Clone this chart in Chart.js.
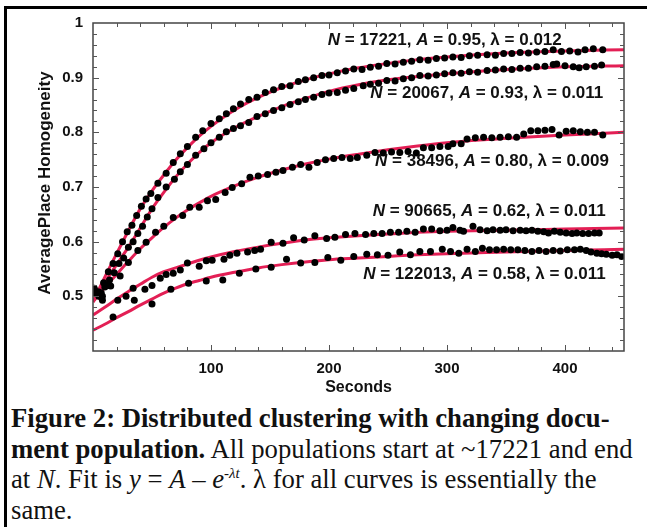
<!DOCTYPE html>
<html>
<head>
<meta charset="utf-8">
<script src="https://cdn.jsdelivr.net/npm/chart.js@4.4.1/dist/chart.umd.min.js"></script>
<style>
  html, body { margin: 0; padding: 0; background: #fff; }
  #wrap { position: relative; width: 647px; height: 527px; overflow: hidden; background: #fff; }
  #box { position: absolute; left: 4px; top: 6px; right: -10px; height: 518px;
         border-top: 3px solid #000; border-left: 3px solid #000; }
  #c { position: absolute; left: 0; top: 0; }
  #cap { position: absolute; left: 11px; top: 403px; font-family: 'Liberation Serif', 'Times New Roman', serif;
         font-size: 26.7px; line-height: 30.5px; color: #111; white-space: nowrap; }
  #cap sup { font-size: 15px; vertical-align: 10px; line-height: 0; }
</style>
</head>
<body>
<div id="wrap">
  <div id="box"></div>
  <canvas id="c" width="647" height="400"></canvas>
  <div id="cap">
    <div><b>Figure 2: Distributed clustering with changing docu-</b></div>
    <div><b>ment population.</b> All populations start at ~17221 and end</div>
    <div>at <i>N</i>. Fit is <i>y</i> = <i>A</i> &ndash; <i>e</i><sup>-<i>&lambda;t</i></sup>. &lambda; for all curves is essentially the</div>
    <div>same.</div>
  </div>
</div>
<script>
// ---- data ----
const X_TICKS = [100, 200, 300, 400];
const Y_TICKS = [0.5, 0.6, 0.7, 0.8, 0.9, 1];

const POP_N = ['17221', '20067', '38496', '90665', '122013'];
const POP_A = ['0.95', '0.93', '0.80', '0.62', '0.58'];
const POP_L = ['0.012', '0.011', '0.009', '0.011', '0.011'];

// fitted curves, sampled at FIT_T
const FIT_T = [0, 10, 20, 30, 40, 50, 60, 70, 80, 90, 100, 120, 140, 160, 180, 200, 225, 250, 275, 300, 350, 400, 450];
const FIT_17221  = [0.49, 0.535, 0.578, 0.62, 0.66, 0.693, 0.722, 0.749, 0.772, 0.793, 0.811, 0.841, 0.864, 0.882, 0.896, 0.907, 0.918, 0.926, 0.933, 0.938, 0.945, 0.949, 0.951];
const FIT_20067  = [0.49, 0.525, 0.558, 0.59, 0.625, 0.66, 0.69, 0.718, 0.742, 0.763, 0.781, 0.808, 0.829, 0.847, 0.862, 0.875, 0.887, 0.896, 0.902, 0.907, 0.915, 0.92, 0.922];
const FIT_38496  = [0.49, 0.516, 0.54, 0.564, 0.587, 0.607, 0.626, 0.643, 0.658, 0.671, 0.683, 0.702, 0.718, 0.731, 0.742, 0.751, 0.76, 0.768, 0.775, 0.781, 0.789, 0.795, 0.80];
const FIT_90665  = [0.466, 0.48, 0.495, 0.509, 0.522, 0.535, 0.545, 0.552, 0.559, 0.566, 0.572, 0.582, 0.59, 0.597, 0.603, 0.607, 0.611, 0.614, 0.617, 0.619, 0.621, 0.623, 0.625];
const FIT_122013 = [0.438, 0.449, 0.461, 0.472, 0.484, 0.495, 0.506, 0.515, 0.523, 0.529, 0.535, 0.544, 0.552, 0.558, 0.563, 0.567, 0.57, 0.573, 0.576, 0.578, 0.581, 0.584, 0.586];

// measured points [seconds, homogeneity]
const DOTS_17221 = [[1,0.513],[5,0.508],[9,0.525],[13,0.545],[17,0.56],[21,0.578],[25,0.6],[29,0.618],[33,0.63],[37,0.648],[41,0.665],[45,0.678],[49,0.688],[55,0.707],[62,0.725],[68,0.745],[74,0.761],[80,0.774],[87,0.791],[93,0.803],[100,0.816],[107,0.825],[113,0.834],[119,0.843],[125,0.852],[132,0.86],[139,0.864],[146,0.873],[153,0.878],[160,0.884],[167,0.885],[174,0.893],[180,0.896],[187,0.9],[194,0.904],[200,0.905],[207,0.909],[214,0.912],[221,0.916],[228,0.915],[235,0.919],[242,0.921],[249,0.926],[256,0.925],[263,0.928],[270,0.93],[277,0.933],[284,0.932],[291,0.935],[298,0.936],[305,0.938],[312,0.937],[319,0.94],[326,0.941],[334,0.942],[341,0.941],[348,0.944],[355,0.944],[362,0.946],[369,0.945],[376,0.947],[383,0.948],[390,0.951],[397,0.948],[404,0.949],[411,0.947],[417,0.951],[424,0.953],[432,0.951]];
const DOTS_20067 = [[2,0.505],[6,0.5],[10,0.517],[14,0.53],[18,0.543],[22,0.56],[26,0.57],[30,0.59],[34,0.6],[38,0.615],[42,0.628],[46,0.645],[50,0.66],[55,0.681],[62,0.7],[69,0.714],[74,0.728],[80,0.741],[87,0.758],[94,0.77],[100,0.781],[107,0.791],[113,0.801],[119,0.807],[125,0.812],[132,0.818],[139,0.829],[146,0.834],[153,0.84],[160,0.845],[167,0.851],[174,0.856],[180,0.86],[187,0.864],[194,0.869],[200,0.872],[207,0.873],[214,0.877],[221,0.88],[229,0.885],[235,0.888],[242,0.89],[249,0.895],[256,0.894],[263,0.898],[270,0.9],[277,0.904],[284,0.903],[291,0.905],[298,0.907],[305,0.909],[312,0.908],[319,0.911],[326,0.91],[334,0.913],[341,0.914],[348,0.916],[355,0.915],[362,0.917],[369,0.917],[376,0.92],[383,0.921],[390,0.924],[393,0.925],[400,0.922],[407,0.92],[412,0.918],[418,0.92],[425,0.921],[431,0.923]];
const DOTS_38496 = [[3,0.505],[8,0.5],[15,0.519],[23,0.537],[30,0.562],[38,0.584],[45,0.599],[53,0.617],[60,0.628],[68,0.644],[76,0.648],[82,0.663],[90,0.663],[97,0.675],[104,0.677],[112,0.69],[118,0.699],[126,0.706],[133,0.718],[140,0.72],[148,0.723],[155,0.727],[161,0.73],[169,0.736],[176,0.741],[183,0.736],[190,0.745],[197,0.75],[204,0.752],[211,0.754],[218,0.752],[224,0.754],[232,0.758],[239,0.763],[246,0.762],[253,0.764],[260,0.763],[267,0.765],[274,0.762],[280,0.772],[287,0.772],[294,0.774],[301,0.774],[305,0.779],[312,0.779],[317,0.788],[324,0.79],[331,0.791],[338,0.79],[345,0.791],[352,0.792],[359,0.791],[365,0.797],[371,0.803],[377,0.803],[383,0.804],[389,0.805],[395,0.795],[401,0.802],[407,0.803],[413,0.801],[419,0.8],[425,0.8],[432,0.795]];
const DOTS_90665 = [[1,0.515],[4,0.508],[7,0.506],[13,0.52],[21,0.493],[28,0.5],[34,0.515],[44,0.513],[50,0.52],[57,0.533],[62,0.54],[68,0.542],[74,0.548],[80,0.561],[90,0.555],[96,0.565],[101,0.566],[111,0.568],[116,0.575],[122,0.579],[131,0.581],[137,0.584],[142,0.586],[151,0.599],[161,0.597],[170,0.607],[179,0.603],[188,0.611],[198,0.606],[205,0.608],[214,0.613],[222,0.615],[231,0.613],[238,0.615],[245,0.615],[252,0.617],[259,0.617],[266,0.619],[273,0.617],[280,0.623],[287,0.623],[294,0.62],[300,0.621],[305,0.626],[311,0.621],[314,0.619],[322,0.628],[328,0.622],[334,0.62],[339,0.622],[345,0.621],[350,0.622],[356,0.62],[362,0.621],[367,0.62],[372,0.621],[377,0.619],[382,0.618],[386,0.616],[391,0.619],[396,0.617],[401,0.616],[406,0.615],[410,0.616],[415,0.615],[420,0.615],[425,0.616],[429,0.616]];
const DOTS_122013 = [[1,0.51],[5,0.5],[8,0.493],[17,0.462],[35,0.493],[50,0.486],[66,0.513],[81,0.524],[96,0.528],[110,0.53],[124,0.542],[138,0.55],[151,0.553],[164,0.568],[176,0.561],[188,0.562],[199,0.571],[210,0.566],[221,0.573],[232,0.577],[241,0.576],[250,0.575],[260,0.581],[269,0.576],[277,0.582],[286,0.582],[296,0.586],[303,0.582],[310,0.579],[317,0.586],[324,0.582],[330,0.588],[336,0.585],[342,0.585],[348,0.586],[354,0.585],[360,0.585],[366,0.584],[372,0.582],[378,0.584],[384,0.582],[390,0.584],[396,0.583],[402,0.585],[408,0.585],[413,0.586],[418,0.584],[422,0.581],[427,0.579],[431,0.578],[435,0.577],[440,0.575],[444,0.576],[448,0.573]];

// where each fit label sits, in data units (left edge, vertical middle)
const LABEL_AT = [[199, 0.969], [235, 0.871], [239, 0.747], [237, 0.655], [229, 0.540]];

const FIT_COLOR = '#E31F55';
const FONT = "'Liberation Sans', Arial, sans-serif";

function dotSet(pts) {
  return {
    type: 'scatter', data: pts.map(p => ({ x: p[0], y: p[1] })),
    pointRadius: 3.5, pointBackgroundColor: '#000', pointBorderWidth: 0,
    showLine: false, order: 0
  };
}

function fitSet(vals) {
  return {
    type: 'scatter', data: FIT_T.map((t, i) => ({ x: t, y: vals[i] })),
    showLine: true, borderColor: FIT_COLOR, borderWidth: 3, pointRadius: 0,
    cubicInterpolationMode: 'monotone', order: 1
  };
}

// frame with inward ticks, fit labels and axis titles
const decor = {
  id: 'decor',
  afterDatasetsDraw(chart) {
    const { ctx, chartArea: a, scales: { x, y } } = chart;
    ctx.save();
    ctx.strokeStyle = '#444';
    ctx.lineWidth = 1.5;
    ctx.strokeRect(a.left, a.top, a.right - a.left, a.bottom - a.top);
    ctx.lineWidth = 1;
    ctx.strokeStyle = '#555';
    ctx.beginPath();
    for (let t = 20; t < 450; t += 20) {
      const px = Math.round(x.getPixelForValue(t)) + 0.5;
      const len = t % 100 === 0 ? 6 : 4;
      ctx.moveTo(px, a.bottom); ctx.lineTo(px, a.bottom - len);
      ctx.moveTo(px, a.top); ctx.lineTo(px, a.top + len);
    }
    for (let k = 21; k < 50; k++) {
      const v = k / 50;
      const py = Math.round(y.getPixelForValue(v)) + 0.5;
      const len = k % 5 === 0 ? 6 : 4;
      ctx.moveTo(a.left, py); ctx.lineTo(a.left + len, py);
      ctx.moveTo(a.right, py); ctx.lineTo(a.right - len, py);
    }
    ctx.stroke();

    // fit labels
    ctx.fillStyle = '#111';
    ctx.textBaseline = 'middle';
    LABEL_AT.forEach((p, i) => {
      let px = x.getPixelForValue(p[0]);
      const py = y.getPixelForValue(p[1]);
      const runs = [
        ['N', true], [' = ' + POP_N[i] + ', ', false],
        ['A', true], [' = ' + POP_A[i] + ', \u03bb = ' + POP_L[i], false]
      ];
      runs.forEach(([s, it]) => {
        ctx.font = (it ? 'italic ' : '') + 'bold 17px ' + FONT;
        ctx.fillText(s, px, py);
        px += ctx.measureText(s).width;
      });
    });
    ctx.restore();
  },
  afterDraw(chart) {
    const { ctx, chartArea: a } = chart;
    ctx.save();
    ctx.fillStyle = '#111';
    ctx.textAlign = 'center';
    ctx.textBaseline = 'middle';
    ctx.font = 'bold 16px ' + FONT;
    ctx.fillText('Seconds', (a.left + a.right) / 2, 388);
    ctx.translate(45, 183);
    ctx.rotate(-Math.PI / 2);
    ctx.font = 'bold 17px ' + FONT;
    ctx.fillText('AveragePlace Homogeneity', 0, 0);
    ctx.restore();
  }
};

new Chart(document.getElementById('c'), {
  type: 'scatter',
  data: {
    datasets: [
      dotSet(DOTS_17221), dotSet(DOTS_20067), dotSet(DOTS_38496), dotSet(DOTS_90665), dotSet(DOTS_122013),
      fitSet(FIT_17221), fitSet(FIT_20067), fitSet(FIT_38496), fitSet(FIT_90665), fitSet(FIT_122013)
    ]
  },
  options: {
    responsive: false, animation: false, devicePixelRatio: 1,
    layout: { padding: { left: 0, top: 23, right: 23, bottom: 0 } },
    plugins: { legend: { display: false }, tooltip: { enabled: false } },
    scales: {
      x: {
        type: 'linear', min: 0, max: 450,
        grid: { display: false, drawTicks: false }, border: { display: false },
        afterBuildTicks: s => { s.ticks = X_TICKS.map(v => ({ value: v })); },
        afterFit: s => { s.height = 49; },
        ticks: { padding: 9, color: '#111', font: { family: FONT, weight: 'bold', size: 15 }, maxRotation: 0 }
      },
      y: {
        type: 'linear', min: 0.4, max: 1,
        grid: { display: false, drawTicks: false }, border: { display: false },
        afterBuildTicks: s => { s.ticks = Y_TICKS.map(v => ({ value: v })); },
        afterFit: s => { s.width = 93; },
        ticks: {
          padding: 10, color: '#111', font: { family: FONT, weight: 'bold', size: 15 },
          callback: v => (v === 1 ? '1' : v.toFixed(1))
        }
      }
    }
  },
  plugins: [decor]
});
</script>
</body>
</html>
